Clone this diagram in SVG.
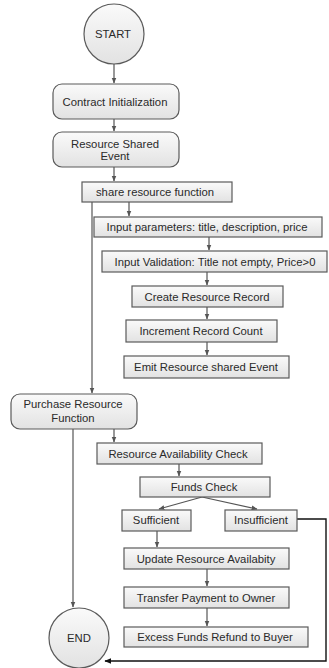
<svg xmlns="http://www.w3.org/2000/svg" width="329" height="668" viewBox="0 0 329 668">
<style>
.n{fill:url(#g);stroke:#5a5a5a;stroke-width:1.2}
.t{font-family:"Liberation Sans",Arial,sans-serif;font-size:11.3px;fill:#2a2a2a;text-anchor:middle}
.c{fill:none;stroke:#555;stroke-width:1.2}
.k{fill:none;stroke:#111;stroke-width:1.4}
</style>
<defs>
<linearGradient id="g" x1="0" y1="0" x2="0" y2="1"><stop offset="0" stop-color="#fafafa"/><stop offset="1" stop-color="#e2e2e2"/></linearGradient>
<marker id="a" viewBox="0 0 10 10" refX="9" refY="5" markerWidth="5" markerHeight="5" orient="auto"><path d="M0,1 L10,5 L0,9 z" fill="#555"/></marker>
<marker id="b" viewBox="0 0 10 10" refX="9" refY="5" markerWidth="5" markerHeight="5" orient="auto"><path d="M0,1 L10,5 L0,9 z" fill="#111"/></marker>
</defs>
<rect width="329" height="668" fill="#fff"/>
<g id="connectors">
<path class="c" d="M114,64 V83" marker-end="url(#a)"/>
<path class="c" d="M114,119 V131" marker-end="url(#a)"/>
<path class="c" d="M114,167 V181" marker-end="url(#a)"/>
<path class="c" d="M92,202 V393" marker-end="url(#a)"/>
<path class="c" d="M129,202 V216" marker-end="url(#a)"/>
<path class="c" d="M209,237 V250" marker-end="url(#a)"/>
<path class="c" d="M207,272 V285" marker-end="url(#a)"/>
<path class="c" d="M207,307 V319" marker-end="url(#a)"/>
<path class="c" d="M207,342 V355" marker-end="url(#a)"/>
<path class="c" d="M73,429 V607" marker-end="url(#a)"/>
<path class="c" d="M114,429 V442" marker-end="url(#a)"/>
<path class="c" d="M179,464 V476" marker-end="url(#a)"/>
<path class="c" d="M202,497 L159,509" marker-end="url(#a)"/>
<path class="c" d="M202,497 L257,509" marker-end="url(#a)"/>
<path class="c" d="M157,531 V547" marker-end="url(#a)"/>
<path class="c" d="M207,569 V586" marker-end="url(#a)"/>
<path class="c" d="M207,608 V626" marker-end="url(#a)"/>
<path class="k" d="M297,519 H326 V661 H105" marker-end="url(#b)"/>
</g>
<g id="start"><circle class="n" cx="114" cy="34" r="30"/><text class="t" x="113" y="38">START</text></g>
<g id="contract-init"><rect class="n" x="53" y="84" width="126" height="35" rx="9"/><text class="t" x="115" y="106">Contract Initialization</text></g>
<g id="resource-shared-event"><rect class="n" x="53" y="132" width="126" height="35" rx="9"/><text class="t" x="115" y="148">Resource Shared</text><text class="t" x="115" y="160">Event</text></g>
<g id="share-resource-function"><rect class="n" x="82" y="182" width="150" height="20"/><text class="t" x="155" y="196">share resource function</text></g>
<g id="input-parameters"><rect class="n" x="94" y="217" width="228" height="20"/><text class="t" x="207" y="231">Input parameters: title, description, price</text></g>
<g id="input-validation"><rect class="n" x="102" y="251" width="225" height="21"/><text class="t" x="215" y="265.5">Input Validation: Title not empty, Price&gt;0</text></g>
<g id="create-resource-record"><rect class="n" x="132" y="286" width="151" height="21"/><text class="t" x="207" y="300.5">Create Resource Record</text></g>
<g id="increment-record-count"><rect class="n" x="126" y="320" width="151" height="22"/><text class="t" x="201" y="335">Increment Record Count</text></g>
<g id="emit-event"><rect class="n" x="124" y="356" width="165" height="22"/><text class="t" x="206" y="371">Emit Resource shared Event</text></g>
<g id="purchase-resource-function"><rect class="n" x="11" y="394" width="126" height="35" rx="9"/><text class="t" x="73" y="407.5">Purchase Resource</text><text class="t" x="73" y="421.5">Function</text></g>
<g id="availability-check"><rect class="n" x="97" y="443" width="165" height="21"/><text class="t" x="178" y="457.5">Resource Availability Check</text></g>
<g id="funds-check"><rect class="n" x="140" y="477" width="130" height="20"/><text class="t" x="204" y="491">Funds Check</text></g>
<g id="sufficient"><rect class="n" x="122" y="510" width="69" height="21"/><text class="t" x="156" y="524">Sufficient</text></g>
<g id="insufficient"><rect class="n" x="225" y="510" width="72" height="21"/><text class="t" x="261" y="524">Insufficient</text></g>
<g id="update-availability"><rect class="n" x="124" y="548" width="165" height="21"/><text class="t" x="206" y="562.5">Update Resource Availabity</text></g>
<g id="transfer-payment"><rect class="n" x="124" y="587" width="165" height="21"/><text class="t" x="206" y="601.5">Transfer Payment to Owner</text></g>
<g id="refund"><rect class="n" x="124" y="627" width="184" height="20"/><text class="t" x="215" y="641">Excess Funds Refund to Buyer</text></g>
<g id="end"><circle class="n" cx="79" cy="638" r="30"/><text class="t" x="79" y="642">END</text></g>
</svg>
